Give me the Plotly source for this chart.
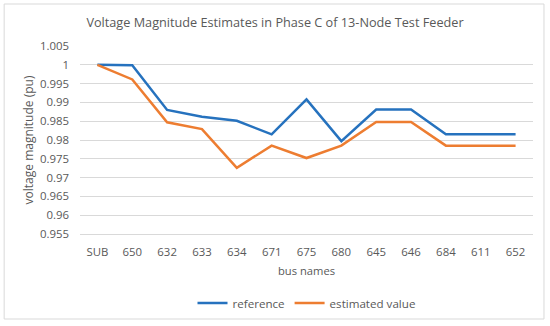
import plotly.graph_objects as go

buses = ["SUB", "650", "632", "633", "634", "671", "675", "680", "645", "646", "684", "611", "652"]
reference = [1.0, 0.9999, 0.9880, 0.9862, 0.9851, 0.9815, 0.9908, 0.9797, 0.9881, 0.9881, 0.9815, 0.9815, 0.9815]
estimated = [1.0, 0.9961, 0.9847, 0.9829, 0.9726, 0.9785, 0.9752, 0.9785, 0.9848, 0.9848, 0.9785, 0.9785, 0.9785]
y_ticks = [0.955, 0.96, 0.965, 0.97, 0.975, 0.98, 0.985, 0.99, 0.995, 1.0, 1.005]
y_tick_labels = ["0.955", "0.96", "0.965", "0.97", "0.975", "0.98", "0.985", "0.99", "0.995", "1", "1.005"]

FONT = "Open Sans"
GRAY = "#595959"

fig = go.Figure()
fig.add_trace(go.Scatter(x=buses, y=reference, mode="lines", name="reference",
                         line=dict(color="#2672BE", width=2.5)))
fig.add_trace(go.Scatter(x=buses, y=estimated, mode="lines", name="estimated value",
                         line=dict(color="#ED7D31", width=2.5)))

L, R, T, B = 79.5, 16.5, 46, 92
W, H = 550, 326
pw, ph = W - L - R, H - T - B

def px2x(px):
    return (px - L) / pw

def py2y(py):
    return (H - B - py) / ph

fig.update_layout(
    width=W, height=H,
    margin=dict(l=L, r=R, t=T, b=B, autoexpand=False),
    paper_bgcolor="white", plot_bgcolor="white",
    font=dict(family=FONT, color=GRAY, size=11.4),
    title=dict(text="Voltage Magnitude Estimates in Phase C of 13-Node Test Feeder",
               x=0.5, xanchor="center", y=1 - 23 / H, yanchor="middle",
               font=dict(size=12.7, color=GRAY, family=FONT)),
    showlegend=True,
    legend=dict(orientation="h", x=0.5, xanchor="center", y=py2y(303), yanchor="middle",
                font=dict(size=11.6, color=GRAY, family=FONT), bgcolor="rgba(0,0,0,0)"),
    xaxis=dict(type="category", showgrid=False, showline=True, linecolor="#D9D9D9",
               ticks="", ticklabelstandoff=7, tickfont=dict(size=11.4, color=GRAY),
               title=dict(text="bus names", font=dict(size=11.2, color=GRAY), standoff=9),
               range=[-0.5, len(buses) - 0.5], fixedrange=True, automargin=False),
    yaxis=dict(range=[0.955, 1.005], tickvals=y_ticks, ticktext=y_tick_labels,
               showgrid=True, gridcolor="#D9D9D9", gridwidth=1, zeroline=False,
               showline=False, ticks="", ticklabelstandoff=10, tickfont=dict(size=11.4, color=GRAY),
               title=dict(text="voltage magnitude (pu)", font=dict(size=12, color=GRAY), standoff=3),
               automargin=False),
    shapes=[dict(type="rect", xref="paper", yref="paper",
                 x0=px2x(3.5), x1=px2x(544.5), y0=py2y(319), y1=py2y(4),
                 line=dict(color="#D9D9D9", width=1), fillcolor="rgba(0,0,0,0)", layer="below")],
)

fig.write_html("out.html", config={"displayModeBar": False},
               post_script="document.body.style.margin='0';document.body.style.padding='0';")
